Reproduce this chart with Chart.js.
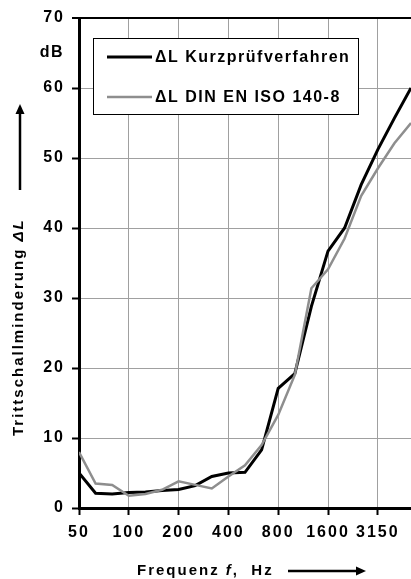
<!DOCTYPE html>
<html>
<head>
<meta charset="utf-8">
<script src="https://cdn.jsdelivr.net/npm/chart.js@4.4.1/dist/chart.umd.min.js"></script>
<style>
  html, body { margin: 0; padding: 0; background: #fff; }
  #wrap { width: 411px; height: 579px; position: relative; }
</style>
</head>
<body>
<div id="wrap"><canvas id="c" width="411" height="579"></canvas></div>
<script>
// Third-octave band centre frequencies (Hz)
const frequencies = ['50','63','80','100','125','160','200','250','315','400','500','630','800','1000','1250','1600','2000','2500','3150','4000','5000'];
// Tick labels shown on the x axis
const shownTicks = ['50','100','200','400','800','1600','3150'];
// ΔL Kurzprüfverfahren (dB)
const kurzValues = [5.0, 2.1, 2.0, 2.2, 2.3, 2.5, 2.65, 3.2, 4.5, 5.0, 5.1, 8.3, 17.1, 19.2, 28.8, 36.7, 40.0, 46.2, 51.2, 55.7, 60.0];
// ΔL DIN EN ISO 140-8 (dB)
const isoValues = [8.0, 3.5, 3.3, 1.75, 2.0, 2.6, 3.8, 3.3, 2.8, 4.5, 6.1, 9.0, 13.3, 19.0, 31.4, 34.1, 38.5, 44.6, 48.5, 52.1, 55.0];
const seriesLabels = ['ΔL Kurzprüfverfahren', 'ΔL DIN EN ISO 140-8'];
const yTitle = ['Trittschallminderung ', 'ΔL'];
const xTitle = ['Frequenz ', 'f', ',  Hz'];
const unitLabel = 'dB';

const FONT = '"Liberation Sans", Arial, sans-serif';
const GRID = '#a0a0a0';
const GRAYLINE = '#8e8e8e';

const toPoints = (vals) => vals.map((v, i) => ({ x: i, y: v }));
const tickIdx = shownTicks.map(t => frequencies.indexOf(t));

const spacingPlugin = {
  id: 'spacing',
  beforeLayout(chart) { chart.ctx.letterSpacing = '2px'; },
  beforeDraw(chart) { chart.ctx.letterSpacing = '2px'; }
};

const decorPlugin = {
  id: 'decor',
  afterDraw(chart) {
    const ctx = chart.ctx;
    ctx.save();
    ctx.fillStyle = '#000';
    ctx.strokeStyle = '#000';

    // unit label
    ctx.letterSpacing = '1.5px';
    ctx.font = 'bold 16px ' + FONT;
    ctx.textAlign = 'right';
    ctx.textBaseline = 'middle';
    ctx.fillText(unitLabel, 64, 53);

    // legend box
    const bx = 93, by = 38, bw = 265, bh = 76;
    ctx.fillStyle = '#fff';
    ctx.fillRect(bx, by, bw, bh);
    ctx.lineWidth = 1;
    ctx.strokeStyle = '#000';
    ctx.strokeRect(bx + 0.5, by + 0.5, bw, bh);
    const ds = chart.data.datasets;
    const rows = [57, 97];
    ctx.letterSpacing = '1.5px';
    ds.forEach((d, i) => {
      ctx.beginPath();
      ctx.strokeStyle = d.borderColor;
      ctx.lineWidth = d.borderWidth;
      ctx.moveTo(107, rows[i]);
      ctx.lineTo(152, rows[i]);
      ctx.stroke();
      ctx.fillStyle = '#000';
      ctx.font = 'bold 16px ' + FONT;
      ctx.textAlign = 'left';
      ctx.textBaseline = 'middle';
      ctx.fillText(d.label, 155, rows[i] + 1);
    });

    // y title rotated
    ctx.letterSpacing = '2px';
    ctx.save();
    ctx.translate(19, 436);
    ctx.rotate(-Math.PI / 2);
    ctx.textAlign = 'left';
    ctx.textBaseline = 'middle';
    ctx.fillStyle = '#000';
    ctx.font = 'bold 15px ' + FONT;
    ctx.fillText(yTitle[0], 0, 0);
    let w = ctx.measureText(yTitle[0]).width;
    ctx.font = 'italic bold 15px ' + FONT;
    ctx.fillText(yTitle[1], w, 0);
    ctx.restore();

    // y arrow
    ctx.beginPath();
    ctx.strokeStyle = '#000';
    ctx.lineWidth = 2.5;
    ctx.moveTo(20, 190);
    ctx.lineTo(20, 112);
    ctx.stroke();
    ctx.beginPath();
    ctx.fillStyle = '#000';
    ctx.moveTo(20, 104);
    ctx.lineTo(15.5, 114);
    ctx.lineTo(24.5, 114);
    ctx.closePath();
    ctx.fill();

    // x title
    ctx.textAlign = 'left';
    ctx.textBaseline = 'middle';
    let x = 137;
    ctx.font = 'bold 15px ' + FONT;
    ctx.fillText(xTitle[0], x, 571);
    x += ctx.measureText(xTitle[0]).width;
    ctx.font = 'italic bold 15px ' + FONT;
    ctx.fillText(xTitle[1], x, 571);
    x += ctx.measureText(xTitle[1]).width;
    ctx.font = 'bold 15px ' + FONT;
    ctx.fillText(xTitle[2], x, 571);

    // x arrow
    ctx.beginPath();
    ctx.lineWidth = 2.5;
    ctx.moveTo(288, 571);
    ctx.lineTo(357, 571);
    ctx.stroke();
    ctx.beginPath();
    ctx.moveTo(366, 571);
    ctx.lineTo(356, 566.5);
    ctx.lineTo(356, 575.5);
    ctx.closePath();
    ctx.fill();

    ctx.restore();
  }
};

new Chart(document.getElementById('c'), {
  type: 'line',
  data: {
    datasets: [
      { label: seriesLabels[0], data: toPoints(kurzValues), borderColor: '#000', borderWidth: 3, pointRadius: 0, tension: 0, order: 1, fill: false },
      { label: seriesLabels[1], data: toPoints(isoValues), borderColor: GRAYLINE, borderWidth: 2.5, pointRadius: 0, tension: 0, order: 0, fill: false }
    ]
  },
  options: {
    responsive: false,
    animation: false,
    events: [],
    layout: { padding: { top: 18, left: 0, right: 0, bottom: 0 } },
    plugins: { legend: { display: false }, tooltip: { enabled: false }, title: { display: false } },
    scales: {
      x: {
        type: 'linear',
        min: 0,
        max: frequencies.length - 1,
        offset: false,
        border: { color: '#000', width: 3 },
        grid: {
          color: GRID,
          tickColor: '#000',
          tickLength: 7,
          lineWidth: 1,
          tickWidth: 2
        },
        afterBuildTicks: (s) => { s.ticks = tickIdx.map(v => ({ value: v })); },
        ticks: {
          autoSkip: false,
          maxRotation: 0,
          minRotation: 0,
          padding: 8,
          color: '#000',
          font: { family: FONT, size: 16, weight: 'bold' },
          callback: (val) => frequencies[val]
        },
        afterFit: (s) => { s.height = 71; s.paddingLeft = 0; s.paddingRight = 0; }
      },
      y: {
        min: 0,
        max: 70,
        border: { color: '#000', width: 3 },
        grid: {
          color: (c) => c.tick.value === 70 ? '#000' : (c.tick.value === 0 ? 'rgba(0,0,0,0)' : GRID),
          lineWidth: (c) => c.tick.value === 70 ? 2 : 1,
          tickColor: '#000',
          tickLength: 7,
          tickWidth: 2
        },
        ticks: {
          stepSize: 10,
          padding: 7,
          color: '#000',
          font: { family: FONT, size: 16, weight: 'bold' }
        },
        afterFit: (s) => { s.width = 79; s.paddingTop = 0; s.paddingBottom = 0; }
      }
    }
  },
  plugins: [spacingPlugin, decorPlugin]
});
</script>
</body>
</html>
